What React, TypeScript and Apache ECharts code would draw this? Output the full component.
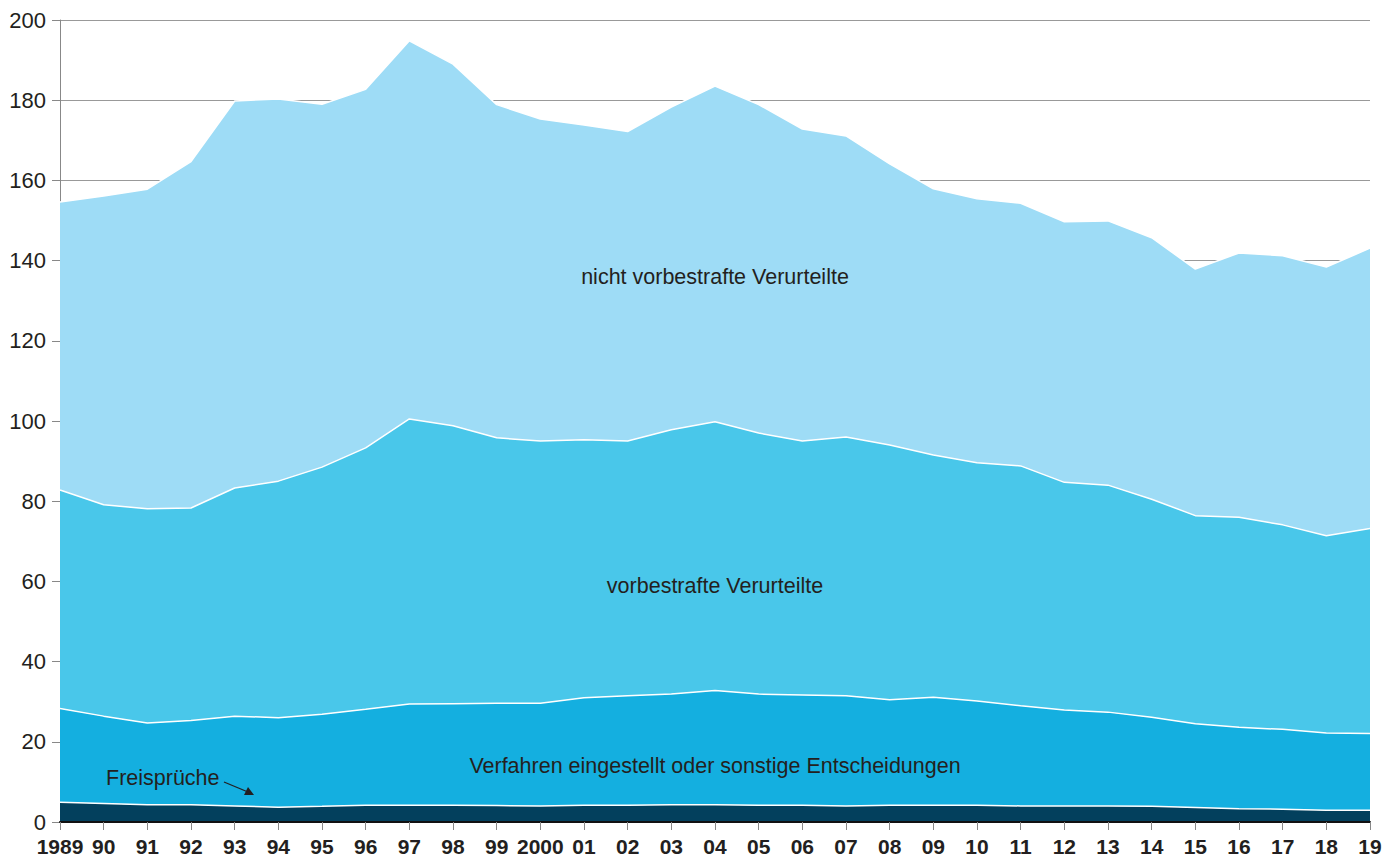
import React, { useEffect, useRef } from "react";
import * as echarts from "echarts";

const years = ["1989","90","91","92","93","94","95","96","97","98","99","2000","01","02","03","04","05","06","07","08","09","10","11","12","13","14","15","16","17","18","19"];

const freisprueche = [4.9,4.6,4.3,4.3,4.0,3.7,3.9,4.2,4.2,4.2,4.1,4.0,4.2,4.2,4.3,4.3,4.2,4.2,4.0,4.2,4.2,4.2,4.0,4.0,4.0,3.9,3.6,3.3,3.2,2.9,2.9];
const verfahren = [23.4,21.8,20.4,21.0,22.4,22.3,23.0,23.9,25.2,25.3,25.5,25.6,26.8,27.3,27.6,28.5,27.7,27.5,27.5,26.3,26.9,26.0,25.0,23.9,23.4,22.2,20.9,20.3,19.9,19.3,19.2];
const vorbestrafte = [54.5,52.7,53.4,53.0,56.9,59.0,61.6,65.2,71.1,69.3,66.2,65.4,64.3,63.5,65.9,67.0,65.1,63.3,64.5,63.5,60.4,59.4,59.8,56.8,56.6,54.4,51.9,52.4,51.0,49.2,51.1];
const nichtVorbestrafte = [71.8,77.0,79.7,86.4,96.5,95.3,90.5,89.4,94.3,90.2,83.1,80.3,78.5,77.2,80.5,83.7,81.9,77.8,75.1,70.1,66.4,65.8,65.5,65.0,65.9,65.2,61.5,65.9,67.1,67.0,69.9];

const seriesNames = ["Freisprüche", "Verfahren eingestellt oder sonstige Entscheidungen", "vorbestrafte Verurteilte", "nicht vorbestrafte Verurteilte"];
const seriesColors = ["#03405d", "#14afe0", "#49c7ea", "#9edcf6"];

const FONT = "'Liberation Sans', Arial, Helvetica, sans-serif";

export default function App() {
  const ref = useRef<HTMLDivElement>(null);
  useEffect(() => {
    if (!ref.current) return;
    const chart = echarts.init(ref.current, undefined, { renderer: "svg" });
    const data = [freisprueche, verfahren, vorbestrafte, nichtVorbestrafte];
    const txt = (text: string, x: number, y: number, align: string) => ({
      type: "text",
      z: 100,
      x,
      y,
      style: { text, fill: "#231f20", fontSize: 21.5, fontFamily: FONT, align, verticalAlign: "middle" },
    });
    chart.setOption({
      animation: false,
      grid: { left: 60, right: 16, top: 20, bottom: 39, containLabel: false },
      xAxis: {
        type: "category",
        data: years,
        boundaryGap: false,
        axisLine: { show: true, lineStyle: { color: "#111", width: 2 } },
        axisTick: { show: true, length: 8, lineStyle: { color: "#888", width: 1 }, interval: 0 },
        axisLabel: { interval: 0, color: "#231f20", fontSize: 21, fontWeight: "bold", fontFamily: FONT, margin: 14 },
        z: 10,
      },
      yAxis: {
        type: "value",
        min: 0,
        max: 200,
        interval: 20,
        axisLine: { show: true, lineStyle: { color: "#888", width: 1 } },
        axisTick: { show: true, length: 8, lineStyle: { color: "#888" } },
        axisLabel: { color: "#231f20", fontSize: 22, fontFamily: FONT, margin: 14 },
        splitLine: { show: true, lineStyle: { color: "#999", width: 1 } },
      },
      series: data.map((d, i) => ({
        name: seriesNames[i],
        type: "line",
        stack: "total",
        data: d,
        showSymbol: false,
        symbol: "none",
        lineStyle: { color: "#ffffff", width: 1.5 },
        areaStyle: { color: seriesColors[i], opacity: 1 },
        itemStyle: { color: seriesColors[i] },
      })),
      graphic: [
        txt("nicht vorbestrafte Verurteilte", 715, 277, "center"),
        txt("vorbestrafte Verurteilte", 715, 586, "center"),
        txt("Verfahren eingestellt oder sonstige Entscheidungen", 715, 766, "center"),
        txt("Freisprüche", 106, 778, "left"),
        { type: "line", z: 100, shape: { x1: 224, y1: 782, x2: 248, y2: 792 }, style: { stroke: "#231f20", lineWidth: 1.3 } },
        { type: "polygon", z: 100, shape: { points: [[254, 795], [244, 795], [248, 787]] }, style: { fill: "#231f20" } },
      ],
    });
    return () => chart.dispose();
  }, []);
  return <div ref={ref} style={{ position: "fixed", left: 0, top: 0, width: 1386, height: 861, background: "#fff" }} />;
}
